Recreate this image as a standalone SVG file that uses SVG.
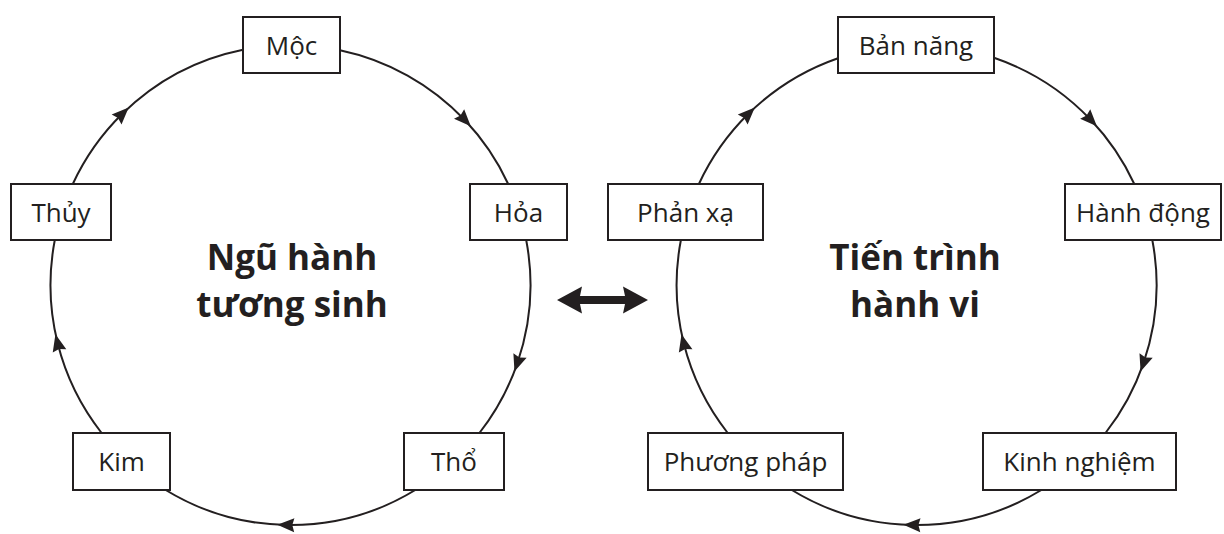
<svg xmlns="http://www.w3.org/2000/svg" width="1224" height="534" viewBox="0 0 1224 534">
<style>
.box{fill:#fff;stroke:#231f20;stroke-width:2}
.lbl{font-family:"Open Sans","Noto Sans","Liberation Sans",sans-serif;font-size:26px;fill:#231f20;text-anchor:middle}
.ttl{font-family:"Open Sans","Noto Sans","Liberation Sans",sans-serif;font-size:35px;font-weight:bold;fill:#231f20;text-anchor:middle}
.arc{fill:none;stroke:#231f20;stroke-width:2;marker-mid:url(#ah)}
</style>
<defs>
<marker id="ah" viewBox="-12 -12 24 24" refX="0" refY="0" markerWidth="24" markerHeight="24" markerUnits="userSpaceOnUse" orient="auto">
<path d="M9,0 L-8,-7 L-6,0 L-8,7 Z" fill="#231f20"/>
</marker>
</defs>
<rect width="1224" height="534" fill="#fff"/>
<g id="connectors">
<path class="arc" d="M340,50.2 A240,240 0 0 1 464.6,119.8 A240,240 0 0 1 508.2,184"/>
<path class="arc" d="M526.2,240 A240,240 0 0 1 517.4,363.1 A240,240 0 0 1 479.4,433"/>
<path class="arc" d="M415.3,490 A240,240 0 0 1 286.3,525 A240,240 0 0 1 165.7,490"/>
<path class="arc" d="M101.6,433 A240,240 0 0 1 57.6,343.1 A240,240 0 0 1 54.8,240"/>
<path class="arc" d="M72.8,184 A240,240 0 0 1 122.3,113.8 A240,240 0 0 1 243,49.7"/>
<path class="arc" d="M994,57.8 A240,240 0 0 1 1090.7,119.8 A240,240 0 0 1 1134.3,184"/>
<path class="arc" d="M1152.3,240 A240,240 0 0 1 1143.5,363.1 A240,240 0 0 1 1105.5,433"/>
<path class="arc" d="M1041.4,490 A240,240 0 0 1 912.4,525 A240,240 0 0 1 791.8,490"/>
<path class="arc" d="M727.7,433 A240,240 0 0 1 683.7,343.1 A240,240 0 0 1 680.9,240"/>
<path class="arc" d="M698.9,184 A240,240 0 0 1 748.4,113.8 A240,240 0 0 1 838,58.2"/>
<path id="link" d="M557,300 L582,286.5 L580,296 L625,296 L623,286.5 L648,300 L623,313.5 L625,304 L580,304 L582,313.5 Z" fill="#231f20"/>
</g>
<g id="title-left">
<text class="ttl" x="292" y="270">Ngũ hành</text>
<text class="ttl" x="292" y="317">tương sinh</text>
</g>
<g id="title-right">
<text class="ttl" x="915" y="270">Tiến trình</text>
<text class="ttl" x="915" y="317">hành vi</text>
</g>
<g id="moc"><rect class="box" x="243" y="17" width="97" height="56"/><text class="lbl" x="291.5" y="54.5">Mộc</text></g>
<g id="hoa"><rect class="box" x="470" y="184" width="97" height="56"/><text class="lbl" x="518.5" y="221.5">Hỏa</text></g>
<g id="tho"><rect class="box" x="404" y="433" width="100" height="57"/><text class="lbl" x="454" y="471">Thổ</text></g>
<g id="kim"><rect class="box" x="73" y="433" width="97" height="57"/><text class="lbl" x="121.5" y="471">Kim</text></g>
<g id="thuy"><rect class="box" x="11" y="184" width="100" height="56"/><text class="lbl" x="61" y="221.5">Thủy</text></g>
<g id="ban-nang"><rect class="box" x="838" y="17" width="156" height="56"/><text class="lbl" x="916" y="54.5">Bản năng</text></g>
<g id="hanh-dong"><rect class="box" x="1065" y="184" width="156" height="56"/><text class="lbl" x="1143" y="221.5">Hành động</text></g>
<g id="kinh-nghiem"><rect class="box" x="983" y="433" width="193" height="57"/><text class="lbl" x="1079.5" y="471">Kinh nghiệm</text></g>
<g id="phuong-phap"><rect class="box" x="648" y="433" width="195" height="57"/><text class="lbl" x="745.5" y="471">Phương pháp</text></g>
<g id="phan-xa"><rect class="box" x="608" y="184" width="155" height="56"/><text class="lbl" x="685.5" y="221.5">Phản xạ</text></g>
</svg>
